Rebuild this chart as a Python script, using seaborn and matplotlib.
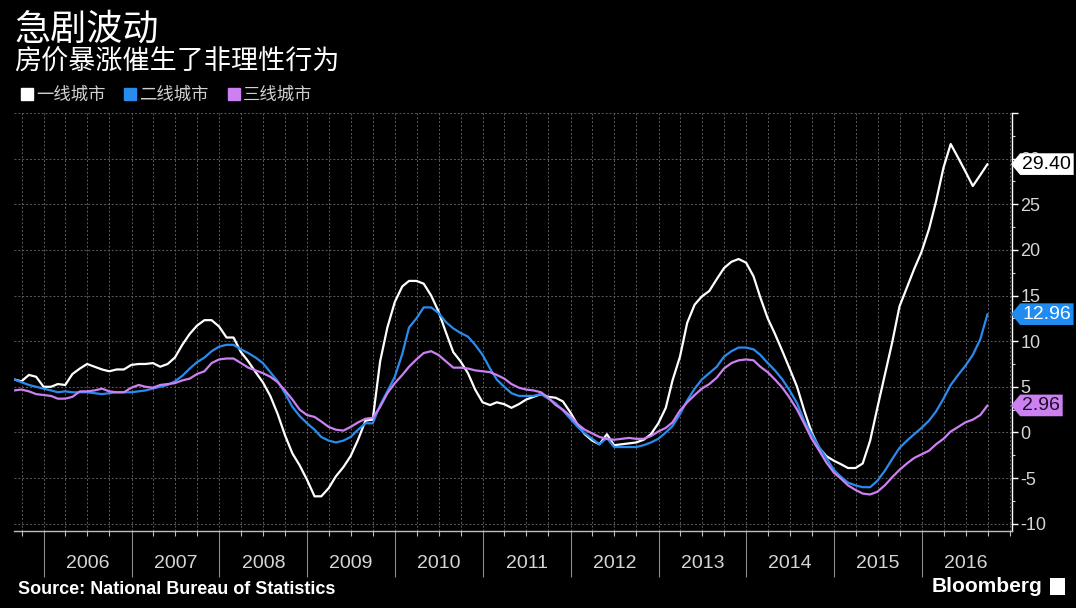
import numpy as np
import pandas as pd
import matplotlib
matplotlib.use("Agg")
import matplotlib.pyplot as plt
import matplotlib.dates as mdates
import matplotlib.transforms as mtransforms
from matplotlib.lines import Line2D
from matplotlib.path import Path
from matplotlib.ticker import FixedLocator, MultipleLocator
import seaborn as sns

# ---------------- data (monthly, Aug 2005 - Sep 2016, % y/y) ----------------
start_month = "2005-08-31"
series_names = ["一线城市", "二线城市", "三线城市"]
series_colors = ["#ffffff", "#2a8bee", "#cc80f2"]

tier1 = [
    5.8, 5.6, 6.3, 6.1, 5.0,                                        # 2005 Aug-Dec
    5.0, 5.3, 5.2, 6.4, 7.0, 7.5, 7.2, 6.9, 6.7, 6.9, 6.9, 7.4,     # 2006
    7.5, 7.5, 7.6, 7.2, 7.5, 8.2, 9.6, 10.8, 11.7, 12.3, 12.3, 11.6,  # 2007
    10.4, 10.4, 8.8, 7.8, 6.6, 5.5, 4.0, 2.0, -0.3, -2.3, -3.6, -5.2,  # 2008
    -7.0, -7.0, -6.1, -4.8, -3.8, -2.6, -0.8, 1.3, 1.4, 7.8, 11.5, 14.3,  # 2009
    16.0, 16.6, 16.6, 16.3, 15.0, 13.3, 11.0, 8.8, 7.8, 6.5, 4.7, 3.3,  # 2010
    3.0, 3.3, 3.1, 2.7, 3.1, 3.6, 3.9, 4.2, 3.9, 3.8, 3.4, 2.2,      # 2011
    0.8, -0.2, -0.9, -1.3, -0.2, -1.4, -1.3, -1.2, -1.1, -0.8, -0.2, 1.0,  # 2012
    2.7, 5.7, 8.3, 12.0, 14.0, 14.9, 15.5, 16.8, 18.0, 18.7, 19.0, 18.6,  # 2013
    17.1, 14.8, 12.5, 10.8, 8.9, 7.0, 5.0, 2.3, 0.0, -1.7, -2.6, -3.1,  # 2014
    -3.5, -3.9, -3.9, -3.4, -0.9, 2.7, 6.3, 9.9, 13.8, 15.9, 17.9, 19.8,  # 2015
    22.3, 25.3, 29.0, 31.6, 30.1, 28.6, 27.0, 28.2, 29.4,            # 2016 Jan-Sep
]

tier2 = [
    5.8, 5.5, 5.2, 5.0, 4.8,                                        # 2005
    4.6, 4.4, 4.5, 4.4, 4.4, 4.4, 4.3, 4.2, 4.3, 4.4, 4.4, 4.4,     # 2006
    4.5, 4.6, 4.8, 5.0, 5.2, 5.6, 6.2, 7.0, 7.7, 8.2, 8.9, 9.4,     # 2007
    9.6, 9.6, 9.1, 8.7, 8.2, 7.6, 6.6, 5.6, 4.3, 2.8, 1.8, 1.0,     # 2008
    0.3, -0.5, -0.9, -1.1, -0.9, -0.5, 0.3, 1.0, 1.0, 3.0, 4.5, 6.1,  # 2009
    8.6, 11.5, 12.5, 13.7, 13.7, 13.1, 12.1, 11.4, 10.9, 10.5, 9.6, 8.5,  # 2010
    7.0, 5.8, 5.0, 4.3, 4.0, 4.0, 4.0, 4.2, 3.7, 3.2, 2.4, 1.5,     # 2011
    0.6, -0.1, -0.7, -1.3, -0.6, -1.6, -1.6, -1.6, -1.6, -1.4, -1.1, -0.7,  # 2012
    0.0, 0.7, 2.0, 3.5, 4.8, 5.8, 6.5, 7.2, 8.3, 8.9, 9.3, 9.3,     # 2013
    9.1, 8.5, 7.6, 6.8, 5.8, 4.6, 3.2, 1.2, -0.2, -1.6, -2.8, -4.1,  # 2014
    -4.9, -5.5, -5.8, -6.0, -6.0, -5.3, -4.2, -2.9, -1.7, -0.9, -0.2, 0.5,  # 2015
    1.3, 2.3, 3.7, 5.2, 6.3, 7.3, 8.5, 10.2, 12.96,                 # 2016
]

tier3 = [
    4.6, 4.7, 4.5, 4.2, 4.1,                                        # 2005
    4.0, 3.7, 3.7, 3.9, 4.5, 4.5, 4.6, 4.8, 4.5, 4.4, 4.4, 4.9,     # 2006
    5.2, 5.0, 4.9, 5.2, 5.3, 5.4, 5.7, 5.9, 6.4, 6.7, 7.6, 8.0,     # 2007
    8.1, 8.1, 7.6, 7.1, 6.8, 6.5, 6.1, 5.5, 4.6, 3.6, 2.5, 1.9,     # 2008
    1.7, 1.2, 0.6, 0.3, 0.2, 0.6, 1.1, 1.5, 1.6, 2.8, 4.3, 5.4,     # 2009
    6.3, 7.2, 8.0, 8.7, 8.9, 8.5, 7.8, 7.1, 7.1, 7.0, 6.8, 6.7,     # 2010
    6.6, 6.3, 5.9, 5.3, 4.9, 4.7, 4.6, 4.4, 3.8, 3.0, 2.5, 1.8,     # 2011
    0.9, 0.3, -0.1, -0.5, -0.7, -0.8, -0.7, -0.6, -0.7, -0.7, -0.4, 0.1,  # 2012
    0.5, 1.1, 2.4, 3.3, 4.1, 4.8, 5.3, 6.0, 7.0, 7.6, 7.9, 8.0,     # 2013
    7.9, 7.2, 6.6, 5.8, 4.9, 3.8, 2.5, 0.9, -0.7, -2.0, -3.3, -4.4,  # 2014
    -5.1, -5.8, -6.3, -6.7, -6.8, -6.5, -5.8, -4.9, -4.1, -3.4, -2.8, -2.4,  # 2015
    -2.0, -1.3, -0.7, 0.1, 0.6, 1.1, 1.4, 1.9, 2.96,                # 2016
]

year_labels = [str(y) for y in range(2006, 2017)]
y_ticks = [-10, -5, 0, 5, 10, 15, 20, 25, 30, 35]
y_tick_labels = ["-10", "-5", "0", "5", "10", "15", "20", "25", "30", ""]

# ---------------- build frame ----------------
dates = pd.date_range(start_month, periods=len(tier1), freq="ME")
df = pd.concat([
    pd.DataFrame({"date": dates, "value": vals, "series": name})
    for name, vals in zip(series_names, [tier1, tier2, tier3])
], ignore_index=True)

# ---------------- style ----------------
sns.set_theme(style="dark", rc={
    "axes.facecolor": "black",
    "figure.facecolor": "black",
    "savefig.facecolor": "black",
    "axes.edgecolor": "white",
    "text.color": "white",
})
CJK = ["Noto Sans CJK SC", "DejaVu Sans"]
NARROW = ["Liberation Sans Narrow", "Liberation Sans", "DejaVu Sans"]
plt.rcParams["font.family"] = CJK
plt.rcParams["axes.unicode_minus"] = False

fig = plt.figure(figsize=(10.76, 6.08), dpi=100)
L, R, T, B = 14, 1012, 113, 531
W, H = 1076, 608
ax = fig.add_axes([L / W, 1 - B / H, (R - L) / W, (B - T) / H])
ax.set_facecolor("black")

sns.lineplot(data=df, x="date", y="value", hue="series", hue_order=series_names,
             palette=series_colors, linewidth=1.6, legend=False, ax=ax)

# limits
ax.set_xlim(pd.Timestamp("2005-08-30"), pd.Timestamp("2017-01-10"))
ax.set_ylim(-10.8, 35)
ax.set_xlabel("")
ax.set_ylabel("")

# x ticks: long lines at year starts, short quarterly ticks
year_starts = [mdates.date2num(pd.Timestamp(f"{y}-01-01")) for y in range(2006, 2017)]
ax.xaxis.set_major_locator(FixedLocator(year_starts))
ax.xaxis.set_minor_locator(mdates.MonthLocator(bymonth=[1, 4, 7, 10]))
ax.tick_params(axis="x", which="major", bottom=True, length=33, width=0.8,
               color="#8c8c8c", labelbottom=False, direction="out")
ax.tick_params(axis="x", which="minor", bottom=True, length=3.5, width=0.8,
               color="#bdbdbd", direction="out")

# year labels centered within each year
tr = mtransforms.blended_transform_factory(ax.transData, ax.transAxes)
for lab in year_labels:
    ax.text(pd.Timestamp(f"{lab}-07-02"), -0.077, lab, transform=tr, ha="center",
            va="center", fontsize=14, color="#d6d6d6", family=NARROW)

# y axis on the right
ax.yaxis.tick_right()
ax.set_yticks(y_ticks, y_tick_labels)
ax.yaxis.set_minor_locator(MultipleLocator(2.5))
ax.tick_params(axis="y", which="major", length=4.5, width=1, color="white",
               labelcolor="#d6d6d6", labelsize=13, pad=1.5, direction="out",
               right=True, left=False)
ax.tick_params(axis="y", which="minor", length=2.5, width=0.8, color="#cfcfcf",
               direction="out", right=True, left=False)
for t in ax.get_yticklabels():
    t.set_fontfamily(NARROW)

# grid
grid_kw = dict(color="#5c5c5c", linestyle=(0, (2, 2)), linewidth=0.7)
ax.xaxis.grid(True, which="both", **grid_kw)
ax.yaxis.grid(True, which="major", **grid_kw)
ax.set_axisbelow(True)

for s in ["left", "top"]:
    ax.spines[s].set_visible(False)
ax.spines["right"].set_color("white")
ax.spines["right"].set_linewidth(1.0)
ax.spines["bottom"].set_color("#bdbdbd")
ax.spines["bottom"].set_linewidth(1.0)

# value tags on the right
def tag_box(x0, y0, width, height, mutation_size):
    pad = 0.12 * mutation_size
    x0, y0 = x0 - pad, y0 - pad
    w, h = width + 2 * pad, height + 2 * pad
    tip = h * 0.42
    verts = [(x0 - tip, y0 + h / 2), (x0, y0), (x0 + w, y0), (x0 + w, y0 + h),
             (x0, y0 + h), (x0 - tip, y0 + h / 2)]
    codes = [Path.MOVETO] + [Path.LINETO] * 4 + [Path.CLOSEPOLY]
    return Path(verts, codes)

tr_y = mtransforms.blended_transform_factory(ax.transAxes, ax.transData)
last_vals = [tier1[-1], tier2[-1], tier3[-1]]
tag_colors = ["#ffffff", "#1f8cf2", "#cc80f2"]
text_cols = ["#000000", "#ffffff", "#1a1024"]
for val, col, tcol in zip(last_vals, tag_colors, text_cols):
    ax.text(1.0105, val, f"{val:.2f}", transform=tr_y, ha="left", va="center",
            fontsize=14, color=tcol, family=NARROW, zorder=10, clip_on=False,
            bbox=dict(boxstyle=tag_box, facecolor=col, edgecolor="none"))

# titles
fig.text(14 / W, 1 - 30 / H, "急剧波动", fontsize=26, color="white",
         va="center", ha="left", family=CJK)
fig.text(14 / W, 1 - 61 / H, "房价暴涨催生了非理性行为", fontsize=19.5, color="white",
         va="center", ha="left", family=CJK)

# legend
handles = [Line2D([0], [0], marker="s", linestyle="", color=c, markersize=9)
           for c in series_colors]
leg = fig.legend(handles, series_names, loc="center left",
                 bbox_to_anchor=(21 / W, 1 - 95 / H), ncol=3, frameon=False,
                 handlelength=0.7, handletextpad=0.15, columnspacing=1.1,
                 borderpad=0, borderaxespad=0,
                 prop={"family": CJK, "size": 12.5})
for t in leg.get_texts():
    t.set_color("#d0d0d0")

# footer
fig.text(18 / W, 1 - 590 / H, "Source: National Bureau of Statistics",
         fontsize=13, weight="bold", color="white", va="center", ha="left",
         family=NARROW)
fig.text(1042 / W, 1 - 586 / H, "Bloomberg", fontsize=15, weight="bold",
         color="white", va="center", ha="right", family=NARROW)
fig.patches.append(plt.Rectangle((1050 / W, 1 - 595 / H), 15 / W, 17 / H,
                                 transform=fig.transFigure, facecolor="white",
                                 edgecolor="none"))

fig.savefig("out.png", dpi=100, facecolor="black")
